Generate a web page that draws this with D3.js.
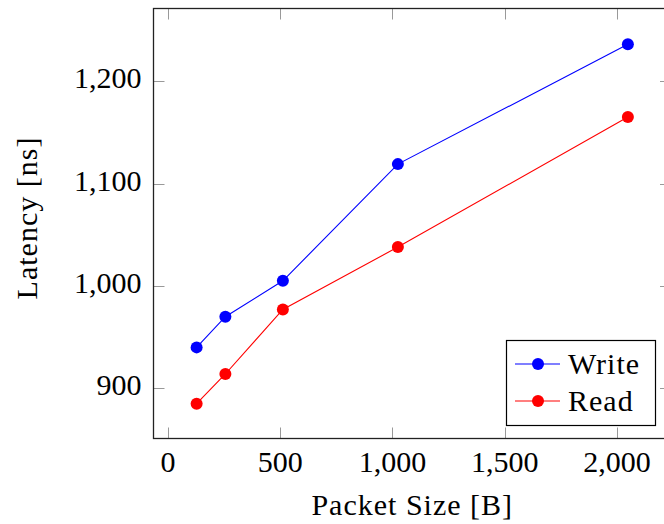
<!DOCTYPE html>
<html>
<head>
<meta charset="utf-8">
<script src="https://cdn.jsdelivr.net/npm/d3@7"></script>
<style>
  body { margin: 0; background: #fff; }
  svg text { font-family: "Liberation Serif", "Times New Roman", serif; fill: #000; }
  .word { letter-spacing: 1px; }
</style>
</head>
<body>
<div class="chart"></div>
<script>
// data
var packetSizes = [128, 256, 512, 1024, 2048];
var writeLatency = [940, 970, 1005, 1119, 1236];
var readLatency = [885, 914, 977, 1038, 1165];
var xTicks = [0, 500, 1000, 1500, 2000];
var yTicks = [900, 1000, 1100, 1200];
var seriesNames = ["Write", "Read"];
var seriesColors = ["#0000ff", "#ff0000"];

var svgWidth = 664;
var svgHeight = 524;

// plot box (right edge runs past the window like the reference)
var box = { left: 153.5, right: 671, top: 8.5, bottom: 438.5 };
var tickLen = 11;
var fontSize = 30;

var svg = d3.select(".chart")
  .append("svg")
  .attr("width", svgWidth)
  .attr("height", svgHeight);

var x = d3.scaleLinear().domain([-64, 2240]).range([box.left, box.right]);
var y = d3.scaleLinear().domain([851, 1271]).range([box.bottom, box.top]);
var fmt = d3.format(",");

// ticks on all four sides, pointing inward
var ticks = svg.append("g").attr("stroke", "#999").attr("stroke-width", 1);
xTicks.forEach(function(t) {
  var px = Math.round(x(t)) + 0.5;
  ticks.append("line").attr("x1", px).attr("x2", px).attr("y1", box.bottom).attr("y2", box.bottom - tickLen);
  ticks.append("line").attr("x1", px).attr("x2", px).attr("y1", box.top).attr("y2", box.top + tickLen);
});
yTicks.forEach(function(t) {
  var py = Math.round(y(t)) + 0.5;
  ticks.append("line").attr("x1", box.left).attr("x2", box.left + tickLen).attr("y1", py).attr("y2", py);
  ticks.append("line").attr("x1", box.right).attr("x2", box.right - tickLen).attr("y1", py).attr("y2", py);
});

// tick labels
svg.append("g").selectAll("text")
  .data(xTicks)
  .enter()
  .append("text")
  .attr("x", function(d) { return x(d); })
  .attr("y", 471.5)
  .attr("text-anchor", "middle")
  .attr("font-size", fontSize)
  .text(function(d) { return fmt(d); });

svg.append("g").selectAll("text")
  .data(yTicks)
  .enter()
  .append("text")
  .attr("x", 141.5)
  .attr("y", function(d) { return y(d) + 7; })
  .attr("text-anchor", "end")
  .attr("font-size", fontSize)
  .text(function(d) { return fmt(d); });

// axis titles
svg.append("text")
  .attr("class", "word")
  .attr("x", (box.left + box.right) / 2)
  .attr("y", 515)
  .attr("text-anchor", "middle")
  .attr("font-size", fontSize)
  .text("Packet Size [B]");

svg.append("text")
  .attr("class", "word")
  .attr("transform", "translate(37,218) rotate(-90)")
  .attr("text-anchor", "middle")
  .attr("font-size", fontSize)
  .text("Latency [ns]");

// series
var line = d3.line()
  .x(function(d) { return x(d[0]); })
  .y(function(d) { return y(d[1]); });

[writeLatency, readLatency].forEach(function(vals, i) {
  var pts = packetSizes.map(function(s, j) { return [s, vals[j]]; });
  svg.append("path")
    .datum(pts)
    .attr("fill", "none")
    .attr("stroke", seriesColors[i])
    .attr("stroke-width", 1.1)
    .attr("d", line);
  svg.append("g").selectAll("circle")
    .data(pts)
    .enter()
    .append("circle")
    .attr("cx", function(d) { return x(d[0]); })
    .attr("cy", function(d) { return y(d[1]); })
    .attr("r", 6)
    .attr("fill", seriesColors[i]);
});

// frame
svg.append("rect")
  .attr("x", box.left)
  .attr("y", box.top)
  .attr("width", box.right - box.left)
  .attr("height", box.bottom - box.top)
  .attr("fill", "none")
  .attr("stroke", "#222")
  .attr("stroke-width", 1.3);

// legend
var legend = svg.append("g");
legend.append("rect")
  .attr("x", 506.5)
  .attr("y", 340.5)
  .attr("width", 149)
  .attr("height", 85)
  .attr("fill", "#fff")
  .attr("stroke", "#000")
  .attr("stroke-width", 1.2);

seriesNames.forEach(function(name, i) {
  var ly = 364 + i * 37;
  legend.append("line")
    .attr("x1", 515).attr("x2", 560)
    .attr("y1", ly).attr("y2", ly)
    .attr("stroke", seriesColors[i])
    .attr("stroke-width", 1.1);
  legend.append("circle")
    .attr("cx", 538).attr("cy", ly).attr("r", 6)
    .attr("fill", seriesColors[i]);
  legend.append("text")
    .attr("class", "word")
    .attr("x", 568)
    .attr("y", ly + 10)
    .attr("font-size", fontSize)
    .text(name);
});
</script>
</body>
</html>
